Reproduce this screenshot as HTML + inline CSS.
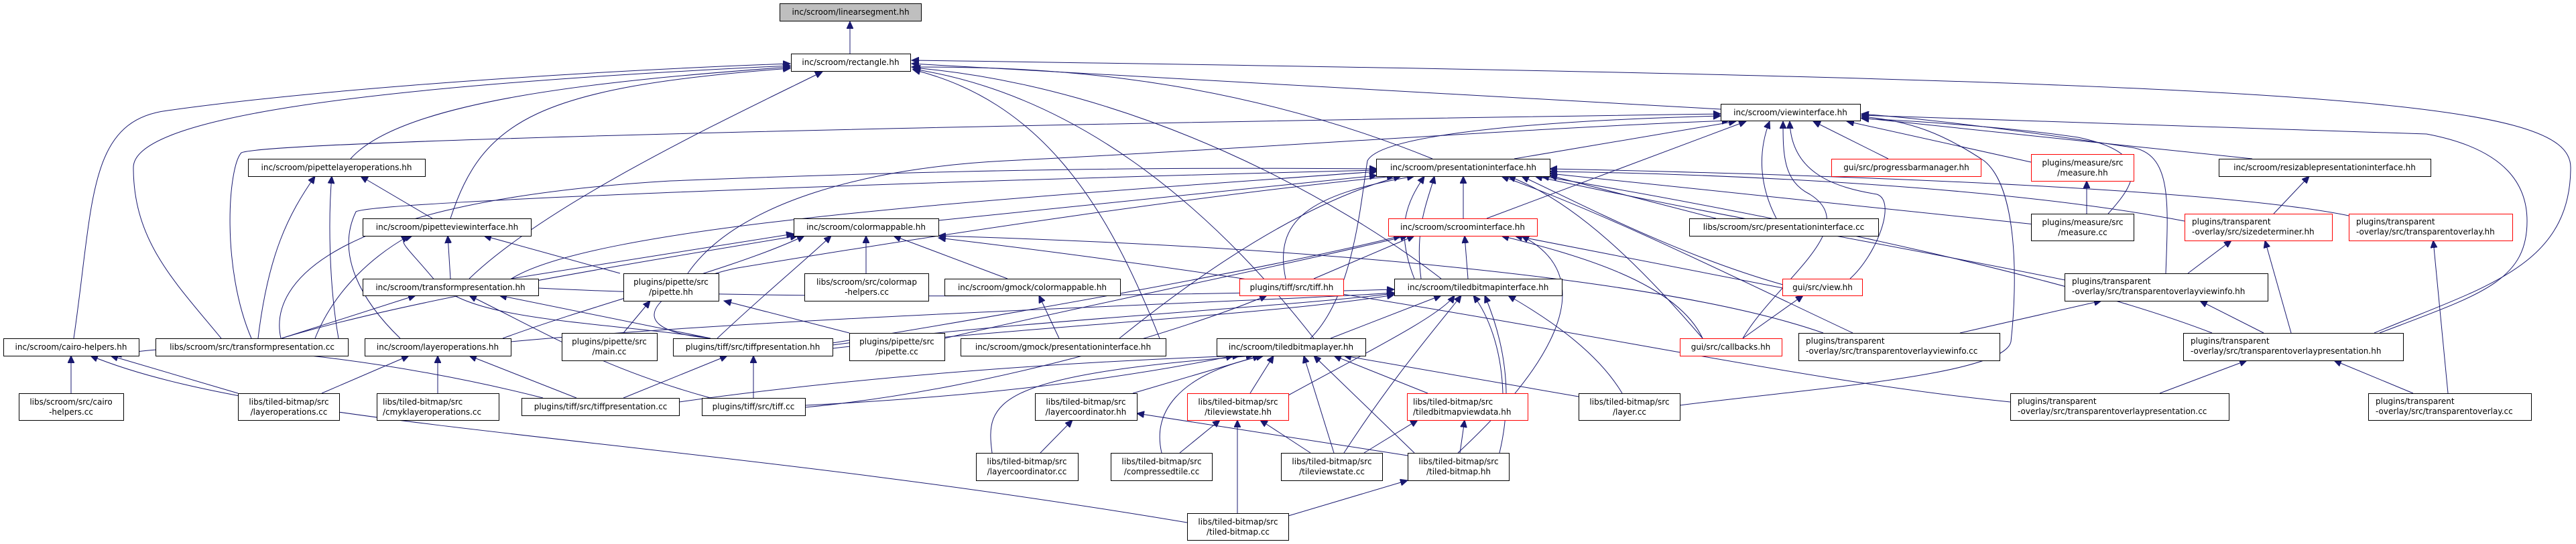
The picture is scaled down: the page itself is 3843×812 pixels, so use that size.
<!DOCTYPE html>
<html><head><meta charset="utf-8">
<style>
html,body{margin:0;padding:0;background:#fff;}
svg{display:block;}
text{font-family:"DejaVu Sans","Liberation Sans",sans-serif;font-size:12px;fill:#000;}
.n{fill:#fff;stroke:#000;stroke-width:1;}
.r{fill:#fff;stroke:#ff0000;stroke-width:1;}
.g{fill:#bfbfbf;stroke:#000;stroke-width:1;}
.e path{fill:none;stroke:#191970;stroke-width:1;marker-end:url(#a);}
</style></head>
<body>
<svg width="3843" height="812" viewBox="0 0 3843 812" xmlns="http://www.w3.org/2000/svg">
<defs>
<marker id="a" markerUnits="userSpaceOnUse" markerWidth="12" markerHeight="10" refX="11" refY="5" orient="auto">
<path d="M0,0 L11,5 L0,10 z" fill="#191970" stroke="#191970"/>
</marker>
</defs>
<g class="e">
<path d="M1268 80 L1268 32"/>
<!-- rectangle children -->
<path d="M110 505 C140 300,130 180,250 165 C500 130,900 105,1179 95"/>
<path d="M330 505 C260 420,199 360,199 250 C199 180,500 130,1179 98"/>
<path d="M523 237 C600 150,900 120,1179 100"/>
<path d="M672 326 C720 180,800 130,1179 102"/>
<path d="M700 416 C820 300,1100 170,1227 107"/>
<path d="M2137 237 C1800 100,1500 100,1360 100"/>
<path d="M2567 163 L1360 95"/>
<path d="M1730 505 C1650 300,1550 150,1362 104"/>
<path d="M1960 505 C1800 300,1600 140,1362 103"/>
<path d="M2150 416 C2000 300,1700 130,1362 101"/>
<path d="M3542 497 C3700 430,3835 400,3835 250 C3835 150,3500 120,1360 90"/>
<!-- viewinterface children -->
<path d="M375 505 C330 400,340 250,360 228 C400 210,1500 185,2567 170"/>
<path d="M2259 237 L2590 181"/>
<path d="M2218 326 L2605 181"/>
<path d="M1955 505 C2020 440,2030 300,2040 240 C2060 200,2300 180,2567 173"/>
<path d="M2817 237 L2705 181"/>
<path d="M3030 242 L2755 181"/>
<path d="M3145 319 C3180 280,3220 230,3100 205 C3000 190,2850 180,2777 177"/>
<path d="M3360 237 L2777 176"/>
<path d="M2650 326 C2621 270,2625 220,2640 181"/>
<path d="M2760 416 C2800 380,2830 300,2800 290 C2740 280,2672 260,2670 181"/>
<path d="M2600 505 C2650 420,2780 340,2700 290 C2660 270,2660 230,2660 181"/>
<path d="M3231 408 C3235 300,3240 230,3180 220 C3050 200,2900 180,2777 170"/>
<path d="M2506 605 C2700 580,2990 560,3000 510 C3010 420,3010 280,2960 240 C2900 200,2850 180,2777 174"/>
<path d="M3550 497 C3700 440,3770 420,3770 330 C3770 250,3700 215,3620 200 C3300 190,2900 175,2777 172"/>
<path d="M1026 408 C1100 300,1300 250,1500 240 C1900 220,2300 190,2580 180"/>
<!-- presentationinterface children -->
<path d="M1400 329 L2054 262"/>
<path d="M763 416 C900 330,1600 290,2054 256"/>
<path d="M419 505 C400 420,500 300,1000 270 C1500 250,1800 250,2054 252"/>
<path d="M597 505 C540 450,500 380,531 316 C560 300,1400 270,2054 254"/>
<path d="M1060 505 C900 490,1000 420,1100 400 C1400 350,1800 290,2080 263"/>
<path d="M2183 326 L2183 263"/>
<path d="M1670 505 C1800 400,1950 300,2090 263"/>
<path d="M1918 416 C1900 330,1950 290,2110 263"/>
<path d="M2110 416 C2080 340,2100 300,2125 263"/>
<path d="M2120 416 C2110 340,2130 300,2140 263"/>
<path d="M2560 326 L2312 262"/>
<path d="M3036 335 L2312 259"/>
<path d="M3259 330 C3000 280,2600 260,2312 256"/>
<path d="M3504 322 C3300 280,2700 260,2312 252"/>
<path d="M2660 425 C2500 380,2350 300,2270 263"/>
<path d="M2540 505 C2450 400,2350 300,2250 263"/>
<path d="M3300 497 C3100 420,2700 330,2300 263"/>
<path d="M3090 420 C2900 380,2550 320,2290 263"/>
<path d="M2764 497 C2600 420,2400 320,2240 263"/>
<!-- colormappable children -->
<path d="M762 416 L1184 349"/>
<path d="M420 505 C600 450,900 400,1190 352"/>
<path d="M750 505 C900 450,1100 400,1200 352"/>
<path d="M1070 505 C1150 430,1200 390,1240 352"/>
<path d="M1292 408 L1292 352"/>
<path d="M1503 416 L1333 352"/>
<path d="M2999 600 C2600 560,2200 450,1400 355"/>
<path d="M2720 497 C2500 420,2000 370,1400 352"/>
<!-- scroominterface children -->
<path d="M1960 416 L2110 352"/>
<path d="M2190 416 L2185 352"/>
<path d="M2660 430 L2260 352"/>
<path d="M2540 505 C2500 420,2350 380,2240 352"/>
<path d="M1242 512 C1500 470,1900 400,2090 352"/>
<path d="M1409 505 C1600 460,1900 400,2100 352"/>
<path d="M2175 676 C2300 560,2400 420,2270 352"/>
<!-- tiledbitmapinterface children -->
<path d="M1985 505 L2150 441"/>
<path d="M1242 515 C1500 480,1900 460,2080 438"/>
<path d="M1242 520 C1500 490,1900 470,2080 440"/>
<path d="M762 510 C1200 470,1900 450,2080 437"/>
<path d="M1922 590 C2050 520,2150 470,2170 441"/>
<path d="M2242 587 C2240 520,2220 470,2198 441"/>
<path d="M2420 587 C2380 520,2300 470,2250 441"/>
<path d="M2237 676 C2260 580,2240 500,2215 441"/>
<path d="M2005 676 C2080 560,2150 480,2180 441"/>
<path d="M803 430 C1200 450,1800 440,2080 432"/>
<!-- tiledbitmaplayer children -->
<path d="M1690 587 L1880 531"/>
<path d="M1865 587 L1900 531"/>
<path d="M2130 587 L1990 531"/>
<path d="M2355 592 L2005 531"/>
<path d="M1990 676 L1945 531"/>
<path d="M2110 676 L1960 531"/>
<path d="M1733 676 C1720 620,1750 560,1885 531"/>
<path d="M1480 676 C1470 600,1480 560,1870 531"/>
<path d="M1013 600 C1300 560,1600 540,1850 531"/>
<path d="M1201 605 C1500 590,1700 560,1840 531"/>
<path d="M1201 608 C1500 580,1800 480,1890 441"/>
<!-- lower links -->
<path d="M1552 676 L1600 627"/>
<path d="M2100 680 L1696 617"/>
<path d="M1760 676 L1820 627"/>
<path d="M1955 676 L1880 627"/>
<path d="M1846 766 L1846 627"/>
<path d="M2035 676 L2115 627"/>
<path d="M2178 676 L2185 627"/>
<path d="M1922 770 L2100 717"/>
<path d="M106 587 L106 531"/>
<path d="M355 587 L165 531"/>
<path d="M810 594 C600 540,300 500,170 531"/>
<path d="M1771 780 C1000 650,400 640,135 531"/>
<path d="M480 587 L610 531"/>
<path d="M653 587 L653 531"/>
<path d="M860 594 L700 531"/>
<path d="M930 594 L1085 531"/>
<path d="M1124 594 L1124 531"/>
<path d="M420 505 L620 441"/>
<path d="M1060 505 L745 441"/>
<path d="M1060 594 C900 550,820 500,700 441"/>
<path d="M385 505 C400 380,430 320,470 263"/>
<path d="M505 505 C490 420,490 320,495 263"/>
<path d="M645 326 L538 263"/>
<path d="M470 505 C500 430,560 380,610 352"/>
<path d="M672 416 L668 352"/>
<path d="M925 408 L722 352"/>
<path d="M1060 505 C900 480,700 480,650 420 C600 360,590 360,615 352"/>
<path d="M930 497 L970 449"/>
<path d="M1267 497 L1080 449"/>
<path d="M1580 505 L1550 441"/>
<path d="M3113 319 L3113 270"/>
<path d="M3392 319 L3445 263"/>
<path d="M3264 408 L3329 359"/>
<path d="M3418 497 L3379 359"/>
<path d="M3652 587 L3630 359"/>
<path d="M2924 497 L3135 449"/>
<path d="M3377 497 L3282 449"/>
<path d="M3222 587 L3352 538"/>
<path d="M3600 587 L3482 538"/>
<path d="M2600 505 L2690 441"/>
</g>
<!-- nodes -->
<rect class="g" x="1163.5" y="5.5" width="211" height="26"/><text x="1269" y="22" text-anchor="middle">inc/scroom/linearsegment.hh</text>
<rect class="n" x="1180.5" y="80.5" width="178" height="26"/><text x="1269" y="97" text-anchor="middle">inc/scroom/rectangle.hh</text>
<rect class="n" x="370.5" y="237.5" width="264" height="26"/><text x="502" y="254" text-anchor="middle">inc/scroom/pipettelayeroperations.hh</text>
<rect class="n" x="541.5" y="326.5" width="251" height="26"/><text x="667" y="343" text-anchor="middle">inc/scroom/pipetteviewinterface.hh</text>
<rect class="n" x="1184.5" y="326.5" width="216" height="26"/><text x="1292" y="343" text-anchor="middle">inc/scroom/colormappable.hh</text>
<rect class="n" x="541.5" y="416.5" width="262" height="25"/><text x="672" y="433" text-anchor="middle">inc/scroom/transformpresentation.hh</text>
<rect class="n" x="930.5" y="408.5" width="142" height="41"/><text x="1001" y="425" text-anchor="middle">plugins/pipette/src</text><text x="1001" y="440" text-anchor="middle">/pipette.hh</text>
<rect class="n" x="1200.5" y="408.5" width="185" height="41"/><text x="1293" y="425" text-anchor="middle">libs/scroom/src/colormap</text><text x="1293" y="440" text-anchor="middle">-helpers.cc</text>
<rect class="n" x="5.5" y="505.5" width="202" height="26"/><text x="106" y="522" text-anchor="middle">inc/scroom/cairo-helpers.hh</text>
<rect class="n" x="232.5" y="505.5" width="287" height="26"/><text x="376" y="522" text-anchor="middle">libs/scroom/src/transformpresentation.cc</text>
<rect class="n" x="544.5" y="505.5" width="218" height="26"/><text x="653" y="522" text-anchor="middle">inc/scroom/layeroperations.hh</text>
<rect class="n" x="838.5" y="497.5" width="142" height="41"/><text x="909" y="514" text-anchor="middle">plugins/pipette/src</text><text x="909" y="529" text-anchor="middle">/main.cc</text>
<rect class="n" x="1004.5" y="505.5" width="238" height="26"/><text x="1123" y="522" text-anchor="middle">plugins/tiff/src/tiffpresentation.hh</text>
<rect class="n" x="1267.5" y="497.5" width="142" height="41"/><text x="1338" y="514" text-anchor="middle">plugins/pipette/src</text><text x="1338" y="529" text-anchor="middle">/pipette.cc</text>
<rect class="n" x="28.5" y="587.5" width="156" height="40"/><text x="106" y="604" text-anchor="middle">libs/scroom/src/cairo</text><text x="106" y="619" text-anchor="middle">-helpers.cc</text>
<rect class="n" x="355.5" y="587.5" width="151" height="40"/><text x="431" y="604" text-anchor="middle">libs/tiled-bitmap/src</text><text x="431" y="619" text-anchor="middle">/layeroperations.cc</text>
<rect class="n" x="562.5" y="587.5" width="182" height="40"/><text x="571" y="604">libs/tiled-bitmap/src</text><text x="571" y="619">/cmyklayeroperations.cc</text>
<rect class="n" x="778.5" y="594.5" width="235" height="26"/><text x="896" y="611" text-anchor="middle">plugins/tiff/src/tiffpresentation.cc</text>
<rect class="n" x="1047.5" y="594.5" width="154" height="26"/><text x="1124" y="611" text-anchor="middle">plugins/tiff/src/tiff.cc</text>
<rect class="n" x="2567.5" y="155.5" width="208" height="25"/><text x="2671" y="172" text-anchor="middle">inc/scroom/viewinterface.hh</text>
<rect class="n" x="2053.5" y="237.5" width="259" height="26"/><text x="2183" y="254" text-anchor="middle">inc/scroom/presentationinterface.hh</text>
<rect class="r" x="2071.5" y="326.5" width="222" height="26"/><text x="2182" y="343" text-anchor="middle">inc/scroom/scroominterface.hh</text>
<rect class="n" x="2520.5" y="326.5" width="282" height="26"/><text x="2661" y="343" text-anchor="middle">libs/scroom/src/presentationinterface.cc</text>
<rect class="n" x="1409.5" y="416.5" width="262" height="25"/><text x="1540" y="433" text-anchor="middle">inc/scroom/gmock/colormappable.hh</text>
<rect class="r" x="1849.5" y="416.5" width="155" height="25"/><text x="1927" y="433" text-anchor="middle">plugins/tiff/src/tiff.hh</text>
<rect class="n" x="2080.5" y="416.5" width="250" height="25"/><text x="2205" y="433" text-anchor="middle">inc/scroom/tiledbitmapinterface.hh</text>
<rect class="n" x="1433.5" y="505.5" width="306" height="26"/><text x="1586" y="522" text-anchor="middle">inc/scroom/gmock/presentationinterface.hh</text>
<rect class="n" x="1815.5" y="505.5" width="222" height="26"/><text x="1926" y="522" text-anchor="middle">inc/scroom/tiledbitmaplayer.hh</text>
<rect class="r" x="2506.5" y="505.5" width="152" height="26"/><text x="2582" y="522" text-anchor="middle">gui/src/callbacks.hh</text>
<rect class="n" x="1544.5" y="587.5" width="152" height="40"/><text x="1620" y="604" text-anchor="middle">libs/tiled-bitmap/src</text><text x="1620" y="619" text-anchor="middle">/layercoordinator.hh</text>
<rect class="r" x="1771.5" y="587.5" width="151" height="40"/><text x="1847" y="604" text-anchor="middle">libs/tiled-bitmap/src</text><text x="1847" y="619" text-anchor="middle">/tileviewstate.hh</text>
<rect class="r" x="2099.5" y="587.5" width="180" height="40"/><text x="2108" y="604">libs/tiled-bitmap/src</text><text x="2108" y="619">/tiledbitmapviewdata.hh</text>
<rect class="n" x="2355.5" y="587.5" width="151" height="40"/><text x="2431" y="604" text-anchor="middle">libs/tiled-bitmap/src</text><text x="2431" y="619" text-anchor="middle">/layer.cc</text>
<rect class="n" x="1456.5" y="676.5" width="152" height="41"/><text x="1532" y="693" text-anchor="middle">libs/tiled-bitmap/src</text><text x="1532" y="708" text-anchor="middle">/layercoordinator.cc</text>
<rect class="n" x="1657.5" y="676.5" width="151" height="41"/><text x="1733" y="693" text-anchor="middle">libs/tiled-bitmap/src</text><text x="1733" y="708" text-anchor="middle">/compressedtile.cc</text>
<rect class="n" x="1911.5" y="676.5" width="151" height="41"/><text x="1987" y="693" text-anchor="middle">libs/tiled-bitmap/src</text><text x="1987" y="708" text-anchor="middle">/tileviewstate.cc</text>
<rect class="n" x="2100.5" y="676.5" width="151" height="41"/><text x="2176" y="693" text-anchor="middle">libs/tiled-bitmap/src</text><text x="2176" y="708" text-anchor="middle">/tiled-bitmap.hh</text>
<rect class="n" x="1771.5" y="766.5" width="151" height="40"/><text x="1847" y="783" text-anchor="middle">libs/tiled-bitmap/src</text><text x="1847" y="798" text-anchor="middle">/tiled-bitmap.cc</text>
<rect class="r" x="2732.5" y="237.5" width="223" height="26"/><text x="2844" y="254" text-anchor="middle">gui/src/progressbarmanager.hh</text>
<rect class="r" x="3030.5" y="230.5" width="153" height="40"/><text x="3107" y="247" text-anchor="middle">plugins/measure/src</text><text x="3107" y="262" text-anchor="middle">/measure.hh</text>
<rect class="n" x="3310.5" y="237.5" width="316" height="26"/><text x="3468" y="254" text-anchor="middle">inc/scroom/resizablepresentationinterface.hh</text>
<rect class="n" x="3030.5" y="319.5" width="153" height="40"/><text x="3107" y="336" text-anchor="middle">plugins/measure/src</text><text x="3107" y="351" text-anchor="middle">/measure.cc</text>
<rect class="r" x="3259.5" y="319.5" width="220" height="40"/><text x="3270" y="335">plugins/transparent</text><text x="3270" y="350">-overlay/src/sizedeterminer.hh</text>
<rect class="r" x="3504.5" y="319.5" width="244" height="40"/><text x="3515" y="335">plugins/transparent</text><text x="3515" y="350">-overlay/src/transparentoverlay.hh</text>
<rect class="r" x="2659.5" y="416.5" width="119" height="25"/><text x="2719" y="433" text-anchor="middle">gui/src/view.hh</text>
<rect class="n" x="3080.5" y="408.5" width="303" height="41"/><text x="3091" y="424">plugins/transparent</text><text x="3091" y="439">-overlay/src/transparentoverlayviewinfo.hh</text>
<rect class="n" x="2683.5" y="497.5" width="300" height="41"/><text x="2694" y="513">plugins/transparent</text><text x="2694" y="528">-overlay/src/transparentoverlayviewinfo.cc</text>
<rect class="n" x="3257.5" y="497.5" width="328" height="41"/><text x="3268" y="513">plugins/transparent</text><text x="3268" y="528">-overlay/src/transparentoverlaypresentation.hh</text>
<rect class="n" x="2999.5" y="587.5" width="326" height="40"/><text x="3010" y="603">plugins/transparent</text><text x="3010" y="618">-overlay/src/transparentoverlaypresentation.cc</text>
<rect class="n" x="3533.5" y="587.5" width="243" height="40"/><text x="3544" y="603">plugins/transparent</text><text x="3544" y="618">-overlay/src/transparentoverlay.cc</text>
</svg>
</body></html>
